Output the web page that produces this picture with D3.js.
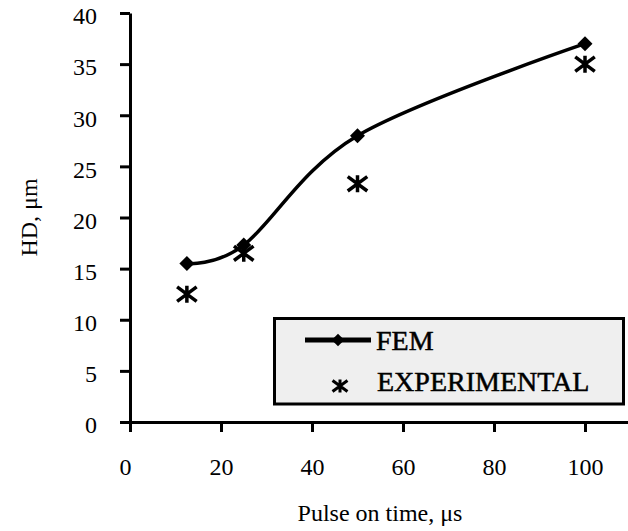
<!DOCTYPE html>
<html>
<head>
<meta charset="utf-8">
<script src="https://cdn.jsdelivr.net/npm/d3@7"></script>
<style>
  html, body { margin: 0; padding: 0; background: #ffffff; }
  svg { display: block; }
  text { font-family: "Liberation Serif", "Times New Roman", serif; fill: #000; }
</style>
</head>
<body>
<svg id="chart" width="628" height="531"></svg>
<script>
// Hole depth versus pulse-on time: FEM prediction and measurements
const pulseOnTime = [12.5, 25, 50, 100];
const hdFEM = [15.5, 17.3, 28, 37];
const hdExperimental = [12.5, 16.5, 23.3, 35];
const xTickValues = [0, 20, 40, 60, 80, 100];
const yTickValues = [0, 5, 10, 15, 20, 25, 30, 35, 40];
const seriesNames = ["FEM", "EXPERIMENTAL"];

const svg = d3.select("#chart");

const x = d3.scaleLinear().domain([0, 110]).range([130, 630.5]);
const y = d3.scaleLinear().domain([0, 40]).range([422, 13]);

// filled diamond (square turned 45 degrees)
const diamondType = {
  draw(ctx, size) {
    const r = Math.sqrt(size / 2);
    ctx.moveTo(0, -r);
    ctx.lineTo(r, 0);
    ctx.lineTo(0, r);
    ctx.lineTo(-r, 0);
    ctx.closePath();
  }
};
// six-armed asterisk: one vertical stroke and two diagonals
function asteriskPath(r) {
  const dx = r * 1.15, dy = r * 0.85;
  return `M0,${-r}L0,${r}M${-dx},${-dy}L${dx},${dy}M${-dx},${dy}L${dx},${-dy}`;
}

// axes
const yAxis = d3.axisLeft(y).tickValues(yTickValues).tickSize(10).tickSizeOuter(0).tickPadding(23);
const xAxis = d3.axisBottom(x).tickValues(xTickValues).tickSize(10).tickSizeOuter(0).tickPadding(26);

const gx = svg.append("g").attr("transform", `translate(0,${y(0)})`).call(xAxis);
const gy = svg.append("g").attr("transform", `translate(${x(0)},0)`).call(yAxis);

[gx, gy].forEach(g => {
  g.select(".domain").attr("stroke", "#000").attr("stroke-width", 3);
  g.selectAll(".tick line").attr("stroke", "#000").attr("stroke-width", 3);
  g.selectAll(".tick text").attr("font-size", 24).attr("font-family", "Liberation Serif").attr("fill", "#000");
});
gy.selectAll(".tick text").attr("dy", "0.45em");
gx.selectAll(".tick text").attr("dx", d => d === 0 ? -5 : 0);

// axis titles
svg.append("text")
  .attr("x", 380).attr("y", 521)
  .attr("text-anchor", "middle")
  .attr("font-size", 24)
  .text("Pulse on time, μs");

svg.append("text")
  .attr("transform", `translate(37,${(y(0) + y(40)) / 2}) rotate(-90)`)
  .attr("text-anchor", "middle")
  .attr("font-size", 24)
  .text("HD, μm");

// FEM smoothed line
const line = d3.line()
  .x((d, i) => x(pulseOnTime[i]))
  .y(d => y(d))
  .curve(d3.curveCatmullRom.alpha(0));

svg.append("path")
  .datum(hdFEM)
  .attr("d", line)
  .attr("fill", "none")
  .attr("stroke", "#000")
  .attr("stroke-width", 3.5);

svg.selectAll(".fem-pt")
  .data(hdFEM)
  .join("path")
  .attr("class", "fem-pt")
  .attr("transform", (d, i) => `translate(${x(pulseOnTime[i])},${y(d)})`)
  .attr("d", d3.symbol().type(diamondType).size(112))
  .attr("fill", "#000");

// experimental points
svg.selectAll(".exp-pt")
  .data(hdExperimental)
  .join("path")
  .attr("class", "exp-pt")
  .attr("transform", (d, i) => `translate(${x(pulseOnTime[i])},${y(d)})`)
  .attr("d", asteriskPath(8.5))
  .attr("fill", "none")
  .attr("stroke", "#000")
  .attr("stroke-width", 3.5);

// legend
const lg = svg.append("g");
lg.append("rect")
  .attr("x", 274.5).attr("y", 318.5)
  .attr("width", 349).attr("height", 85.5)
  .attr("fill", "#efefef")
  .attr("stroke", "#000")
  .attr("stroke-width", 3);

lg.append("line")
  .attr("x1", 305).attr("x2", 371)
  .attr("y1", 340).attr("y2", 340)
  .attr("stroke", "#000").attr("stroke-width", 5);
lg.append("path")
  .attr("transform", "translate(338,340)")
  .attr("d", d3.symbol().type(diamondType).size(80))
  .attr("fill", "#000");
lg.append("text")
  .attr("x", 376).attr("y", 350)
  .attr("font-size", 28)
  .attr("stroke", "#000").attr("stroke-width", 0.5)
  .text(seriesNames[0]);

lg.append("path")
  .attr("transform", "translate(340,386)")
  .attr("d", asteriskPath(6.5))
  .attr("fill", "none")
  .attr("stroke", "#000")
  .attr("stroke-width", 3);
lg.append("text")
  .attr("x", 377).attr("y", 391)
  .attr("font-size", 28)
  .attr("stroke", "#000").attr("stroke-width", 0.5)
  .text(seriesNames[1]);
</script>
</body>
</html>
